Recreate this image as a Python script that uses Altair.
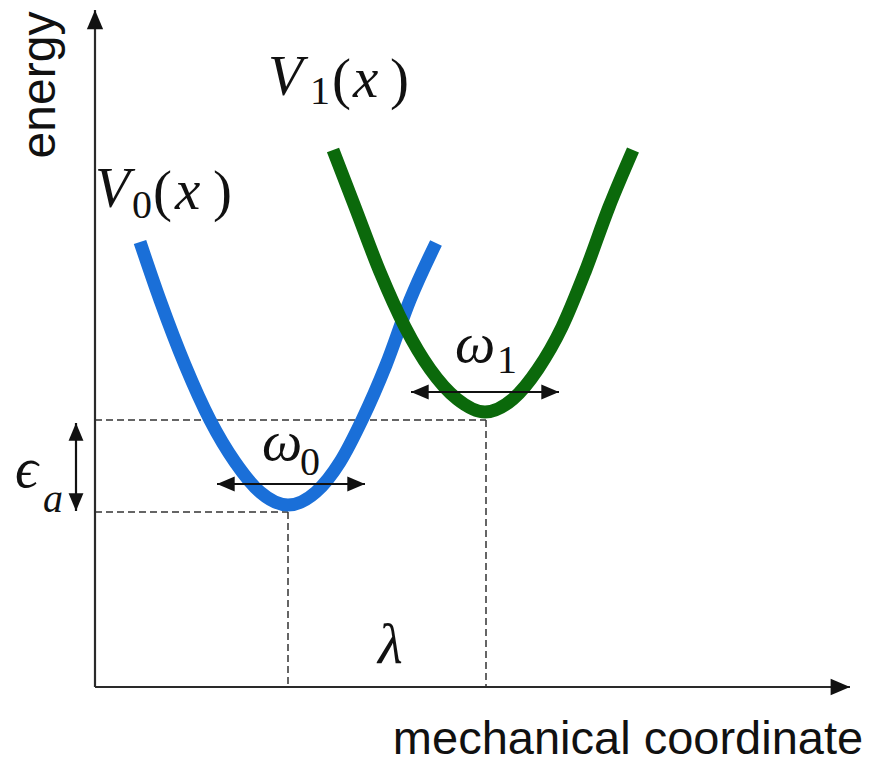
import altair as alt
import pandas as pd

# ---- data (q = mechanical coordinate, E = energy; arbitrary units) ----
v0_q = [0.45, 0.65, 0.90, 1.15, 1.40, 1.65, 1.93, 2.21, 2.45, 2.67, 2.91, 3.15, 3.41]
v0_E = [4.45, 3.87, 3.22, 2.67, 2.25, 1.95, 1.82, 1.95, 2.25, 2.67, 3.22, 3.87, 4.44]
v1_q = [2.38, 2.60, 2.85, 3.10, 3.35, 3.62, 3.90, 4.18, 4.43, 4.67, 4.90, 5.14, 5.38]
v1_E = [5.37, 4.80, 4.15, 3.60, 3.18, 2.88, 2.75, 2.88, 3.18, 3.60, 4.15, 4.80, 5.37]

# dashed guide segments (q, q2, E, E2)
guide_q = [0.00, 3.91, 0.00, 1.93]
guide_q2 = [3.91, 3.91, 1.93, 1.93]
guide_E = [2.67, 2.67, 1.75, 1.75]
guide_E2 = [2.67, 0.00, 1.75, 0.00]

# axes (q, q2, E, E2)
axis_q = [0.00, 0.00]
axis_q2 = [7.55, 0.00]
axis_E = [0.00, 0.00]
axis_E2 = [0.00, 6.77]

# double-headed arrows (omega0, omega1, epsilon_a)
arrow_q = [1.22, 3.16, -0.19]
arrow_q2 = [2.70, 4.64, -0.19]
arrow_E = [2.03, 2.95, 2.64]
arrow_E2 = [2.03, 2.95, 1.76]

# arrow heads: position and direction
head_q = [0.00, 7.55, 1.22, 2.70, 3.16, 4.64, -0.19, -0.19]
head_E = [6.77, 0.00, 2.03, 2.03, 2.95, 2.95, 2.64, 1.76]
head_dir = [270, 0, 180, 0, 180, 0, 270, 90]
head_big = [True, True, False, False, False, False, False, False]

# math labels split into glyph pieces
ital_text = ["V", "x", "V", "x", "ω", "ω", "λ", "ϵ", "a"]
ital_q = [1.73, 2.58, 0.00, 0.80, 1.67, 3.60, 2.83, -0.80, -0.52]
ital_E = [5.92, 5.90, 4.80, 4.78, 2.27, 3.25, 0.24, 2.00, 1.75]
ital_sub = [False, False, False, False, False, False, False, False, True]

up_text = ["1", "(", ")", "0", "(", ")", "0", "1"]
up_q = [2.15, 2.37, 2.95, 0.37, 0.58, 1.18, 2.05, 4.02]
up_E = [5.83, 5.89, 5.89, 4.69, 4.77, 4.77, 2.12, 3.14]
up_sub = [True, False, False, True, False, False, True, True]

# ---- tables ----
curves = pd.DataFrame({
    "q": v0_q + v1_q,
    "E": v0_E + v1_E,
    "curve": ["V0"] * len(v0_q) + ["V1"] * len(v1_q),
    "idx": list(range(len(v0_q))) + list(range(len(v1_q))),
})
guides = pd.DataFrame({"q": guide_q, "q2": guide_q2, "E": guide_E, "E2": guide_E2})
axes_df = pd.DataFrame({"q": axis_q, "q2": axis_q2, "E": axis_E, "E2": axis_E2})
arrows = pd.DataFrame({"q": arrow_q, "q2": arrow_q2, "E": arrow_E, "E2": arrow_E2})
heads = pd.DataFrame({
    "q": head_q, "E": head_E, "dir": head_dir,
    "size": [1500 if b else 1250 for b in head_big],
})
ital = pd.DataFrame({"t": ital_text, "q": ital_q, "E": ital_E,
                     "size": [40 if s else 57 for s in ital_sub]})
upright = pd.DataFrame({"t": up_text, "q": up_q, "E": up_E,
                        "size": [40 if s else 57 for s in up_sub]})
sans = pd.DataFrame({"t": ["energy"], "q": [-0.40], "E": [6.02]})
sans2 = pd.DataFrame({"t": ["mechanical coordinate"], "q": [5.33], "E": [-0.67]})

X = alt.Scale(domain=[-0.87, 7.72], nice=False, zero=False)
Y = alt.Scale(domain=[-0.76, 6.79], nice=False, zero=False)

def xe(f="q"):
    return alt.X(f"{f}:Q", scale=X, axis=None)

def ye(f="E"):
    return alt.Y(f"{f}:Q", scale=Y, axis=None)

guide_layer = alt.Chart(guides).mark_rule(
    color="#333333", strokeWidth=1.5, strokeDash=[7, 4]
).encode(x=xe(), x2="q2:Q", y=ye(), y2="E2:Q")

axis_layer = alt.Chart(axes_df).mark_rule(color="#2a2a2a", strokeWidth=2.2).encode(
    x=xe(), x2="q2:Q", y=ye(), y2="E2:Q")

curve_layer = alt.Chart(curves).mark_line(
    strokeWidth=13, interpolate="monotone", strokeCap="butt"
).encode(
    x=xe(), y=ye(),
    color=alt.Color("curve:N", scale=alt.Scale(domain=["V0", "V1"],
                                               range=["#1a6fd8", "#0b690b"]), legend=None),
    order="idx:Q",
)

arrow_layer = alt.Chart(arrows).mark_rule(color="#111111", strokeWidth=2.2).encode(
    x=xe(), x2="q2:Q", y=ye(), y2="E2:Q")

head_layer = alt.Chart(heads).mark_point(
    shape="M0,0L-1,-0.42L-1,0.42Z", filled=True, color="#111111", opacity=1, strokeWidth=0
).encode(
    x=xe(), y=ye(),
    angle=alt.Angle("dir:Q", scale=None),
    size=alt.Size("size:Q", scale=None),
)

ital_layer = alt.Chart(ital).mark_text(
    font="Liberation Serif", fontStyle="italic", align="left", baseline="alphabetic",
    color="#111111"
).encode(x=xe(), y=ye(), text="t:N", size=alt.Size("size:Q", scale=None))

up_layer = alt.Chart(upright).mark_text(
    font="Liberation Serif", align="left", baseline="alphabetic", color="#111111"
).encode(x=xe(), y=ye(), text="t:N", size=alt.Size("size:Q", scale=None))

energy_layer = alt.Chart(sans).mark_text(
    font="Liberation Sans", fontSize=48, angle=270, align="center",
    baseline="alphabetic", color="#111111"
).encode(x=xe(), y=ye(), text="t:N")

mech_layer = alt.Chart(sans2).mark_text(
    font="Liberation Sans", fontSize=47, align="center",
    baseline="alphabetic", color="#111111"
).encode(x=xe(), y=ye(), text="t:N")

chart = alt.layer(
    guide_layer, axis_layer, curve_layer, arrow_layer, head_layer,
    ital_layer, up_layer, energy_layer, mech_layer
).properties(
    width=859, height=755, padding=0,
    autosize=alt.AutoSizeParams(type="none"),
    background="white",
).configure_view(stroke=None)

chart.save("out.html", embed_options={"renderer": "svg", "actions": False})
